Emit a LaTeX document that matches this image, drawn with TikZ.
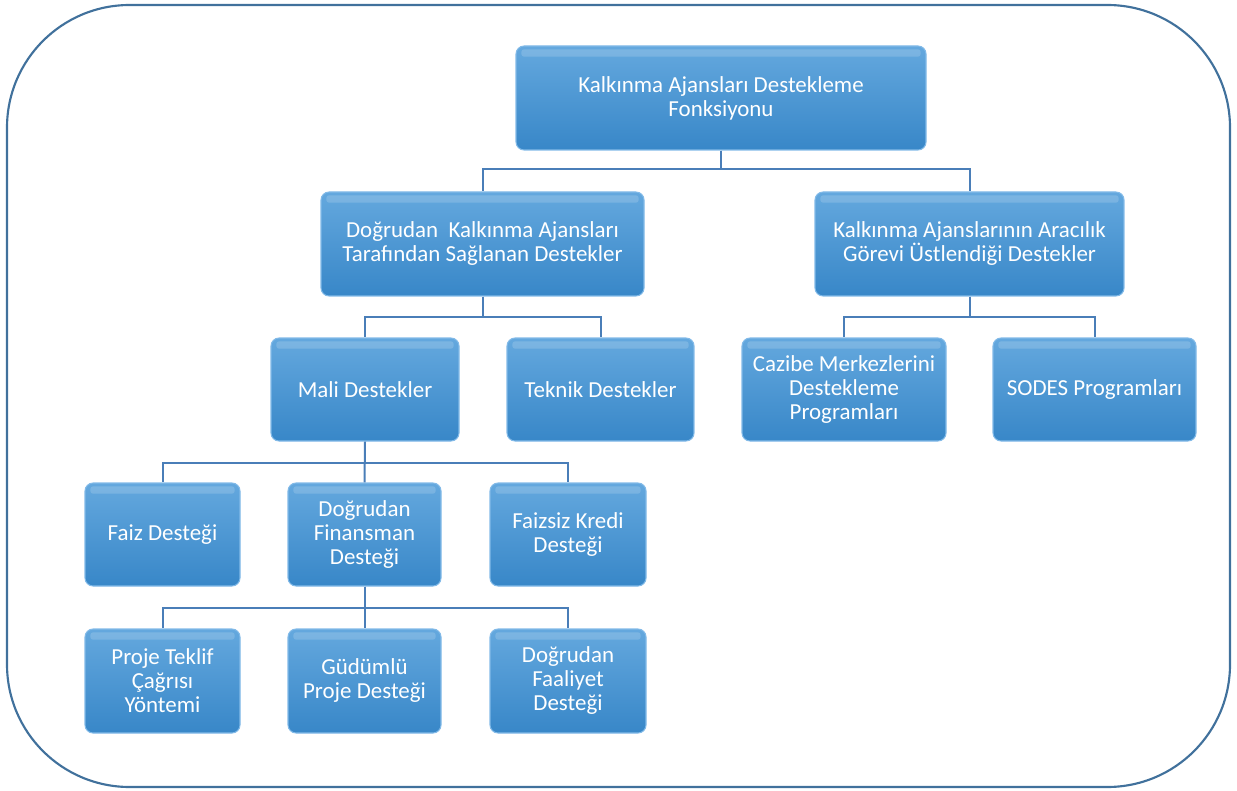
\documentclass[tikz,border=0pt]{standalone}
\usepackage{fontspec}
\setmainfont{Carlito}
\begin{document}
\begin{tikzpicture}[x=0.75pt,y=-0.75pt,
  frame/.style={draw={rgb,255:red,65;green,113;blue,156},line width=1.6pt,rounded corners=92pt},
  box/.style={rectangle,rounded corners=6pt,
    top color={rgb,255:red,100;green,168;blue,222},
    bottom color={rgb,255:red,56;green,135;blue,200},
    draw={rgb,255:red,130;green,186;blue,232},line width=0.8pt,
    text=white,align=center,inner sep=2pt,
    font=\fontsize{17.2}{18}\selectfont,
    path picture={\fill[white,opacity=.16,rounded corners=2pt]
      ([xshift=4pt,yshift=-2.5pt]path picture bounding box.north west) rectangle
      ([xshift=-4pt,yshift=-8pt]path picture bounding box.north east);}},
  conn/.style={draw={rgb,255:red,74;green,126;blue,184},line width=1.5pt}]
\useasboundingbox (0,0) rectangle (1237,791);
\draw[frame] (7,5) rectangle (1230,787);

\node[box,minimum width=410*0.75pt,minimum height=104*0.75pt] (top) at (721,98) {Kalkınma Ajansları Destekleme\\Fonksiyonu};
\node[box,minimum width=323*0.75pt,minimum height=104*0.75pt] (dir) at (482.5,244) {Doğrudan\ \ Kalkınma Ajansları\\Tarafından Sağlanan Destekler};
\node[box,minimum width=309*0.75pt,minimum height=104*0.75pt] (ara) at (969.5,244) {Kalkınma Ajanslarının Aracılık\\Görevi Üstlendiği Destekler};

\node[box,minimum width=188*0.75pt,minimum height=103*0.75pt] (mali) at (365,389.5) {Mali Destekler};
\node[box,minimum width=187*0.75pt,minimum height=103*0.75pt] (tek) at (600.5,389.5) {Teknik Destekler};
\node[box,minimum width=204*0.75pt,minimum height=103*0.75pt] (caz) at (844,389.5) {Cazibe Merkezlerini\\Destekleme\\Programları};
\node[box,minimum width=203*0.75pt,minimum height=103*0.75pt] (sod) at (1094.5,389.5) {SODES Programları};

\node[box,minimum width=155*0.75pt,minimum height=103*0.75pt] (faiz) at (162.5,534.5) {Faiz Desteği};
\node[box,minimum width=153*0.75pt,minimum height=103*0.75pt] (dfin) at (364.5,534.5) {Doğrudan\\Finansman\\Desteği};
\node[box,minimum width=156*0.75pt,minimum height=103*0.75pt] (fkre) at (568,534.5) {Faizsiz Kredi\\Desteği};

\node[box,minimum width=155*0.75pt,minimum height=104*0.75pt] (ptek) at (162.5,681) {Proje Teklif\\Çağrısı\\Yöntemi};
\node[box,minimum width=153*0.75pt,minimum height=104*0.75pt] (gud) at (364.5,681) {Güdümlü\\Proje Desteği};
\node[box,minimum width=156*0.75pt,minimum height=104*0.75pt] (dfa) at (568,681) {Doğrudan\\Faaliyet\\Desteği};

\draw[conn] (top.south) -- ++(0,18) -| (dir.north);
\draw[conn] (top.south) -- ++(0,18) -| (ara.north);
\draw[conn] (dir.south) -- ++(0,20) -| (mali.north);
\draw[conn] (dir.south) -- ++(0,20) -| (tek.north);
\draw[conn] (ara.south) -- ++(0,20) -| (caz.north);
\draw[conn] (ara.south) -- ++(0,20) -| (sod.north);
\draw[conn] (mali.south) -- ++(0,21) -| (faiz.north);
\draw[conn] (mali.south) -- (dfin.north);
\draw[conn] (mali.south) -- ++(0,21) -| (fkre.north);
\draw[conn] (dfin.south) -- ++(0,21) -| (ptek.north);
\draw[conn] (dfin.south) -- (gud.north);
\draw[conn] (dfin.south) -- ++(0,21) -| (dfa.north);
\end{tikzpicture}
\end{document}
